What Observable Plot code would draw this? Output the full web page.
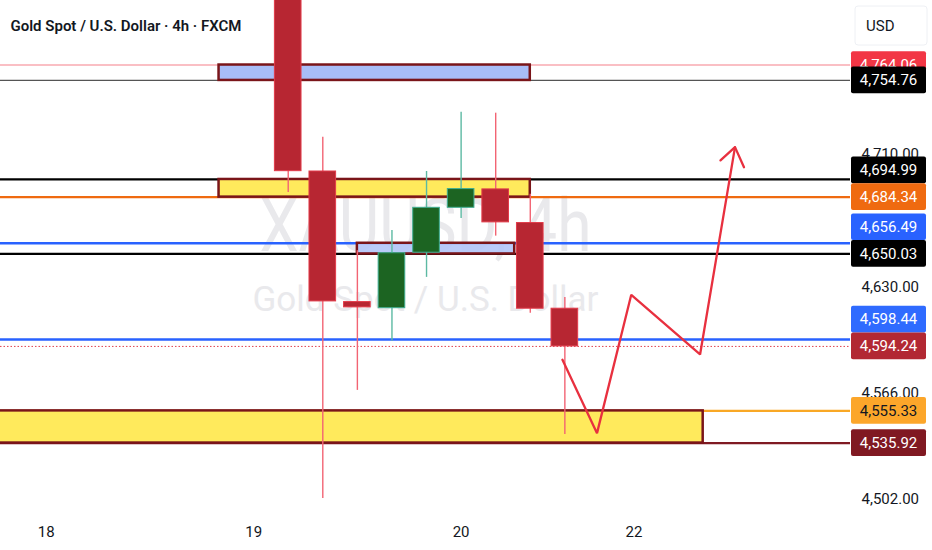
<!DOCTYPE html>
<html><head><meta charset="utf-8">
<script src="https://cdn.jsdelivr.net/npm/d3@7"></script>
<script src="https://cdn.jsdelivr.net/npm/@observablehq/plot@0.6"></script>
<style>
body{margin:0;background:#fff;}
#chart svg{display:block;}
</style>
</head><body><div id="chart"></div>
<script>
// ---- data ----
const candleIdx = [1, 2, 3, 4, 5, 6, 7, 8, 9];
const candleOpen  = [4830.0, 4699.8, 4621.0, 4617.3, 4650.8, 4677.9, 4689.0, 4668.7, 4617.0];
const candleHigh  = [4850.0, 4720.4, 4652.0, 4664.2, 4699.8, 4735.6, 4735.0, 4686.0, 4623.8];
const candleLow   = [4687.2, 4502.5, 4567.7, 4597.4, 4635.9, 4671.5, 4660.8, 4614.3, 4541.1];
const candleClose = [4700.0, 4621.4, 4617.8, 4650.5, 4677.9, 4689.2, 4669.1, 4617.0, 4594.24];

const zoneNames = ["upper", "middle", "inner", "lower"];
const zoneStart = [-1, -1, 3, -7.6];
const zoneEnd   = [8, 8, 7.55, 13];
const zoneLow   = [4754.76, 4684.34, 4650.03, 4535.92];
const zoneHigh  = [4764.06, 4694.99, 4656.49, 4555.33];

const levelValues = [4764.06, 4754.76, 4694.99, 4684.34, 4656.49, 4650.03, 4598.44, 4594.24, 4555.33, 4535.92];

const pathIdx   = [8.93, 9.93, 10.92, 12.91, 13.92];
const pathPrice = [4586.2, 4541.9, 4625.4, 4589.4, 4714.5];
const headIdx   = [13.5, 13.92, 14.18];
const headPrice = [4706.5, 4714.5, 4702.4];

const dayTickIdx = [-6, 0, 6, 11];
const dayLabels  = ["18", "19", "20", "22"];
const priceTicks = [4710, 4670, 4630, 4598, 4566, 4534, 4502];

// ---- styles ----
const W = 932, H = 550, MR = 82, MB = 35;
const RED = "#b72632", RED_EDGE = "#e23b4a", RED_WICK = "#f26473";
const GREEN = "#1c6422", GREEN_EDGE = "#3fae92", GREEN_WICK = "#5cb9a3";
const zoneFill = {upper: "#a8bdf7", middle: "#ffea5c", inner: "#b2c5f8", lower: "#ffea5c"};
const lineStyle = [
  {c: "#f5808a", w: 1.2},
  {c: "#555555", w: 1.2},
  {c: "#000000", w: 2.2},
  {c: "#ef6a10", w: 2.2},
  {c: "#2962ff", w: 2.4},
  {c: "#000000", w: 2.2},
  {c: "#2962ff", w: 2.4},
  {c: "#e0404e", w: 1, d: "1.5,2"},
  {c: "#f9a825", w: 2.2},
  {c: "#7f1a22", w: 2.2}
];
const labelStyle = [
  {bg: "#f23645", fg: "#fff"},
  {bg: "#000000", fg: "#fff"},
  {bg: "#000000", fg: "#fff"},
  {bg: "#ef6a10", fg: "#fff"},
  {bg: "#2962ff", fg: "#fff"},
  {bg: "#000000", fg: "#fff"},
  {bg: "#2f6bff", fg: "#fff"},
  {bg: "#b22833", fg: "#fff"},
  {bg: "#fca62a", fg: "#131722"},
  {bg: "#801922", fg: "#fff"}
];

const candles = candleIdx.map((i, k) => ({i, o: candleOpen[k], h: candleHigh[k], l: candleLow[k], c: candleClose[k]}));
const zones = zoneNames.map((n, k) => ({n, x1: zoneStart[k], x2: zoneEnd[k], y1: zoneLow[k], y2: zoneHigh[k]}));
const path = pathIdx.map((x, k) => ({x, y: pathPrice[k]}));
const head = headIdx.map((x, k) => ({x, y: headPrice[k]}));
const up = d => d.c >= d.o;

const chart = Plot.plot({
  width: W, height: H,
  marginLeft: 0, marginRight: MR, marginTop: 0, marginBottom: MB,
  style: {background: "#fff", fontFamily: "Roboto, sans-serif", color: "#131722"},
  x: {domain: [-7.32, 17.26], axis: null},
  y: {domain: [4492.2, 4803.0], axis: null},
  marks: [
    Plot.text(["XAUUSD, 4h"], {text: d => d, frameAnchor: "middle", dy: -31, fontSize: 74, fill: "#e9e9ec"}),
    Plot.text(["Gold Spot / U.S. Dollar"], {text: d => d, frameAnchor: "middle", dy: 42, fontSize: 35, fill: "#e9e9ec"}),
    ...levelValues.map((v, k) => Plot.ruleY([v], {stroke: lineStyle[k].c, strokeWidth: lineStyle[k].w, strokeDasharray: lineStyle[k].d})),
    Plot.rect(zones, {x1: "x1", x2: "x2", y1: "y1", y2: "y2", fill: d => zoneFill[d.n], fillOpacity: d => d.n === "inner" ? 0.9 : 1, stroke: "#7a1519", strokeWidth: 2.5, clip: true}),
    Plot.ruleX(candles, {x: "i", y1: "l", y2: "h", stroke: d => up(d) ? GREEN_WICK : RED_WICK, strokeWidth: 1.4, clip: true}),
    Plot.rect(candles, {x1: d => d.i - 0.385, x2: d => d.i + 0.385, y1: "o", y2: "c", fill: d => up(d) ? GREEN : RED, stroke: d => up(d) ? GREEN_EDGE : RED_EDGE, strokeWidth: 1, clip: true}),
    Plot.line(path, {x: "x", y: "y", stroke: "#e8303f", strokeWidth: 2.3, strokeLinejoin: "miter"}),
    Plot.line(head, {x: "x", y: "y", stroke: "#e8303f", strokeWidth: 2.3, strokeLinejoin: "miter"}),
    Plot.axisX({ticks: dayTickIdx, tickFormat: d => dayLabels[dayTickIdx.indexOf(d)], tickSize: 0, tickPadding: 11, fontSize: 15, color: "#131722"}),
    Plot.axisY({anchor: "right", ticks: priceTicks, tickFormat: d3.format(",.2f"), tickSize: 0, tickPadding: 11, fontSize: 15, color: "#131722"}),
    Plot.text(["Gold Spot / U.S. Dollar · 4h · FXCM"], {text: d => d, frameAnchor: "top-left", dx: 10, dy: 26, lineAnchor: "middle", fontSize: 15, fontWeight: 600, fill: "#131722"})
  ]
});
document.getElementById("chart").appendChild(chart);

// watermark widths
const svg = d3.select(chart);
svg.selectAll("text").each(function() {
  const t = this.textContent;
  if (t === "XAUUSD, 4h") d3.select(this).attr("textLength", 332).attr("lengthAdjust", "spacingAndGlyphs");
  if (t === "Gold Spot / U.S. Dollar") d3.select(this).attr("textLength", 346).attr("lengthAdjust", "spacingAndGlyphs");
});

// price labels on the right axis (positioned with Plot's y scale)
const ys = chart.scale("y");
const boxH = 26.7, boxW = 75, boxX = W - MR + 1;
const centers = levelValues.map(v => ys.apply(v));
// stack labels from bottom upward to avoid overlaps (the topmost alert label is overlaid)
for (let k = levelValues.length - 2; k >= 1; k--) {
  centers[k] = Math.min(centers[k], centers[k + 1] - boxH);
}
const g = svg.append("g")
  .attr("font-family", "Roboto, sans-serif")
  .attr("font-size", 15)
  .attr("text-anchor", "middle");
levelValues.forEach((v, k) => {
  const cy = centers[k];
  g.append("rect").attr("x", boxX).attr("y", cy - boxH / 2).attr("width", boxW).attr("height", boxH)
    .attr("rx", 2).attr("fill", labelStyle[k].bg);
  g.append("text").attr("x", boxX + boxW / 2).attr("y", cy).attr("dy", "0.35em")
    .attr("text-anchor", "middle")
    .attr("fill", labelStyle[k].fg).text(d3.format(",.2f")(v));
});
// USD badge
g.append("rect").attr("x", 855).attr("y", 6).attr("width", 72).attr("height", 39).attr("rx", 3)
  .attr("fill", "#fff").attr("stroke", "#eef0f4");
g.append("text").attr("x", 866).attr("y", 26).attr("dy", "0.35em").attr("text-anchor", "start")
  .attr("fill", "#131722").text("USD");
</script>
</body></html>
